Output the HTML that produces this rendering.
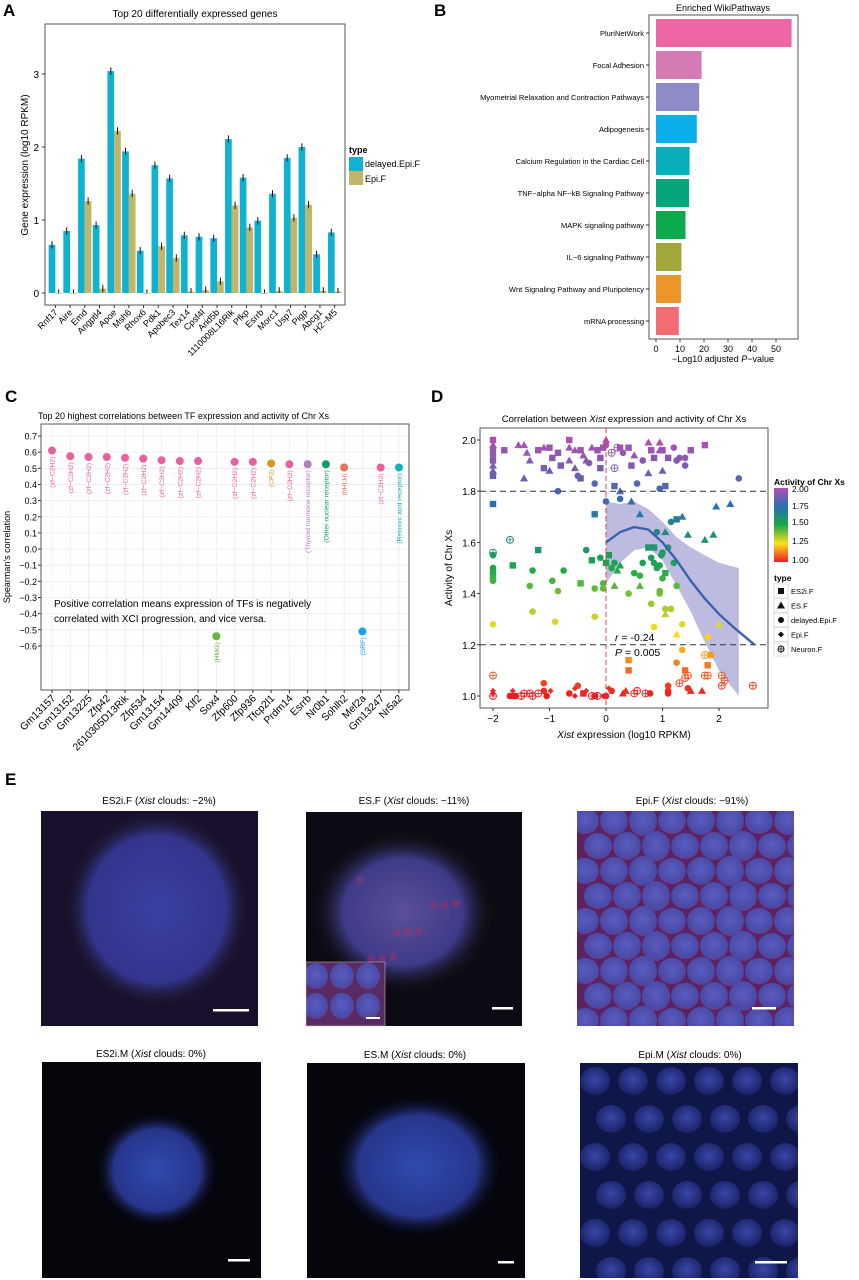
<!DOCTYPE html>
<html><head><meta charset="utf-8"><style>
body{margin:0;background:#fff}
svg{display:block;font-family:"Liberation Sans",Arial,sans-serif}
</style></head><body>
<svg id="fig" width="859" height="1280" viewBox="0 0 859 1280" xmlns="http://www.w3.org/2000/svg">
<defs>
<radialGradient id="blob1" cx="50%" cy="50%" r="50%"><stop offset="0" stop-color="#3b3fa0"/><stop offset="0.75" stop-color="#33358c"/><stop offset="1" stop-color="#1b1a2e" stop-opacity="0"/></radialGradient>
<radialGradient id="blob2" cx="50%" cy="50%" r="50%"><stop offset="0" stop-color="#5a4f9a"/><stop offset="0.65" stop-color="#3e3b88"/><stop offset="1" stop-color="#111" stop-opacity="0"/></radialGradient>
<radialGradient id="blob3" cx="50%" cy="50%" r="50%"><stop offset="0" stop-color="#2f4bb0"/><stop offset="0.7" stop-color="#27358a"/><stop offset="1" stop-color="#05050d" stop-opacity="0"/></radialGradient>
<radialGradient id="cell" cx="50%" cy="45%" r="55%"><stop offset="0" stop-color="#5a5cc0"/><stop offset="0.85" stop-color="#4a4aa6"/><stop offset="1" stop-color="#6a3a88"/></radialGradient>
<radialGradient id="cellb" cx="50%" cy="45%" r="55%"><stop offset="0" stop-color="#3847a8"/><stop offset="1" stop-color="#1a2266"/></radialGradient>
<linearGradient id="cbar" x1="0" y1="1" x2="0" y2="0"><stop offset="0" stop-color="#ee1c25"/><stop offset="0.25" stop-color="#fbe11b"/><stop offset="0.5" stop-color="#19a84a"/><stop offset="0.75" stop-color="#2b6fb5"/><stop offset="1" stop-color="#b14fb0"/></linearGradient>
<clipPath id="clip3"><rect x="577" y="811" width="217" height="215"/></clipPath>
<clipPath id="clip6"><rect x="580" y="1063" width="218" height="215"/></clipPath>
<clipPath id="clipIn"><rect x="306" y="962" width="79" height="64"/></clipPath>
</defs>
<g id="pA"></g>
<g id="pB"></g>
<g id="pC"></g>
<g id="pD"></g>
<g id="pE"></g>
</svg>
<script>
const NS="http://www.w3.org/2000/svg";
function mk(parent,tag,attrs,text){const e=document.createElementNS(NS,tag);for(const k in attrs)e.setAttribute(k,attrs[k]);if(text!==undefined)e.textContent=text;parent.appendChild(e);return e;}

// ---------- Panel A data ----------
const genesA=["Rnf17","Aire","Emd","Angptl4","Apoe","Msh6","Rhox6","Pdk1","Apobec3","Tex14","Cpsf4l","Arid5b","1110008L16Rik","Pfkp","Esrrb","Morc1","Usp7","Pigp","Abcg1","H2−M5"];
const delayedA=[0.66,0.85,1.84,0.93,3.04,1.94,0.58,1.75,1.57,0.79,0.77,0.75,2.11,1.58,0.99,1.36,1.85,2.0,0.53,0.83];
const epiA=[0,0,1.26,0.06,2.22,1.36,0,0.64,0.48,0.02,0.04,0.16,1.2,0.9,0,0.03,1.03,1.21,0.03,0.02];
const ticksA=[0,1,2,3];
// ---------- Panel B data ----------
const pathwaysB=["PluriNetWork","Focal Adhesion","Myometrial Relaxation and Contraction Pathways","Adipogenesis","Calcium Regulation in the Cardiac Cell","TNF−alpha NF−kB Signaling Pathway","MAPK signaling pathway","IL−6 signaling Pathway","Wnt Signaling Pathway and Pluripotency","mRNA processing"];
const valuesB=[56.5,19,18,17,14,13.8,12.3,10.6,10.4,9.5];
const colorsB=["#ee67a4","#d57bb4","#8e8cc6","#0aaeea","#09aebc","#06a67c","#0ca94d","#a1a73a","#ec962a","#f26d73"];
const ticksB=[0,10,20,30,40,50];
// ---------- Panel C data ----------
const tfC=["Gm13157","Gm13152","Gm13225","Zfp42","2610305D13Rik","Zfp534","Gm13154","Gm14409","Klf2","Sox4","Zfp600","Zfp936","Tfcp2l1","Prdm14","Esrrb","Nr0b1","Sohlh2","Mef2a","Gm13247","Nr5a2"];
const corrC=[0.61,0.575,0.57,0.57,0.565,0.56,0.55,0.545,0.545,-0.54,0.54,0.54,0.53,0.525,0.525,0.525,0.505,-0.51,0.505,0.505];
const familyC=["zf−C2H2","zf−C2H2","zf−C2H2","zf−C2H2","zf−C2H2","zf−C2H2","zf−C2H2","zf−C2H2","zf−C2H2","HMG","zf−C2H2","zf−C2H2","CP2","zf−C2H2","Thyroid hormone receptor","Other nuclear receptor","bHLH","SRF","zf−C2H2","Retinoic acid receptor"];
const famColor={"zf−C2H2":"#e8619e","HMG":"#6cb33f","CP2":"#d49a1f","Thyroid hormone receptor":"#b07fc0","Other nuclear receptor":"#0e9e6b","bHLH":"#e9735c","SRF":"#1aa3e2","Retinoic acid receptor":"#12b1c0"};
const ticksC=[0.7,0.6,0.5,0.4,0.3,0.2,0.1,0.0,-0.1,-0.2,-0.3,-0.4,-0.5,-0.6];
// ---------- Panel D data ----------
const xsD=[-2,-2,-2,-2,-2,-2,-2,-2,-1.8,-1.55,-1.45,-1.4,-1.35,-1.45,-1.2,-1.1,-1.0,-0.95,-1.1,-1.0,-0.8,-0.85,-0.65,-0.65,-0.65,-0.55,-0.45,-0.4,-0.5,-0.45,-0.35,-0.25,-0.15,-0.1,-0.05,0,0,-0.1,-0.55,-0.3,0.1,0.2,0.25,0.3,0.4,0.5,0.45,0.65,0.75,0.8,0.85,0.95,0.95,1.0,1.2,1.1,1.25,1.4,1.5,0.75,1.0,1.3,1.4,1.75,2.35,0.15,-0.2,-0.85,0.15,0.25,0.55,0.95,1.05,
-2,0,0.25,0.45,0.6,-0.2,1.15,1.25,1.35,0.9,1.05,1.45,1.95,2.2,1.9,1.75,-1.7,
-2,-2,-2,-2,-2,-2,-1.65,-1.2,-1.3,-1.35,-0.95,-0.85,-0.75,-0.45,-0.35,-0.25,-0.1,-0.2,-0.05,-0.05,0,0.05,0.1,0.15,0.2,0.25,0.15,0.4,0.5,0.6,0.6,0.65,0.75,0.85,0.8,0.85,0.9,0.95,1.0,1.1,1.0,1.05,1.2,1.25,0.95,0.8,0.95,1.05,1.15,1.05,0.98,
-2,-1.3,-0.9,-0.2,1.35,0.85,2.0,
1.25,1.8,1.35,1.25,1.75,1.85,1.8,1.4,0.4,0.4,1.45,1.4,1.75,1.8,2.05,2.1,2.05,2.6,1.3,-2,
-2,-2,-2,-1.7,-1.65,-1.6,-1.45,-1.5,-1.35,-1.3,-1.65,-1.2,-1.1,-1.05,-1.1,-0.98,-0.65,-0.55,-0.5,-0.55,-0.4,-0.35,-0.25,-0.2,-0.15,-0.05,0,0.05,0.1,0.3,0.35,0.5,0.55,0.7,0.78,1.1,1.1,1.1,1.45,1.5,1.7];
const ysD=[2.0,1.98,1.96,1.94,1.92,1.9,1.88,1.86,1.96,1.98,1.98,1.95,1.92,1.85,1.96,1.97,1.97,1.93,1.89,1.88,1.9,1.95,1.97,1.92,2.0,1.96,1.96,1.94,1.86,1.85,1.92,1.97,1.96,1.93,1.97,1.98,2.0,1.89,1.89,1.91,1.95,1.97,1.97,1.95,1.97,1.94,1.9,1.92,1.99,1.96,1.93,1.96,1.99,1.96,1.97,1.93,1.92,1.93,1.96,1.87,1.88,1.93,1.9,1.98,1.85,1.89,1.83,1.8,1.82,1.8,1.83,1.81,1.82,
1.75,1.76,1.77,1.76,1.71,1.71,1.68,1.69,1.7,1.64,1.64,1.63,1.74,1.75,1.63,1.61,1.61,
1.56,1.55,1.5,1.48,1.46,1.45,1.51,1.57,1.49,1.43,1.45,1.41,1.49,1.44,1.57,1.53,1.54,1.42,1.44,1.42,1.52,1.55,1.5,1.52,1.49,1.51,1.43,1.4,1.48,1.47,1.43,1.52,1.58,1.58,1.54,1.52,1.5,1.51,1.56,1.58,1.46,1.48,1.52,1.43,1.4,1.36,1.41,1.34,1.34,1.32,1.55,
1.28,1.33,1.29,1.31,1.28,1.27,1.28,
1.24,1.23,1.18,1.13,1.16,1.16,1.12,1.1,1.14,1.1,1.08,1.07,1.08,1.08,1.08,1.06,1.04,1.04,1.05,1.08,
1.02,1.01,1.0,1.0,1.0,1.0,1.01,1.0,1.01,1.0,1.02,1.01,1.02,1.0,1.05,1.02,1.01,1.03,1.04,1.0,1.01,1.02,1.0,1.0,1.0,1.0,1.0,1.03,1.02,1.01,1.02,1.01,1.02,1.01,1.01,1.04,1.02,1.01,1.03,1.02,1.02];
const typeStr="stscsttsstttttstssstssttststcsttsssctstcnnscstsctssttscsccsttccscnccstccsscc"+"ttscstcttttttnnccs"+"scsscccccscsccccsscctttccctcsscccccccsccccccctcccccccttcccn"+"sssssnn"+"nnnnnnnnddncccnnnndn"+"cccdcdcdsdncndcdcttnnnccccctttccndcccnccdcnnn";
const ticksDx=[-2,-1,0,1,2];
const ticksDy=[1.0,1.2,1.4,1.6,1.8,2.0];
const fitX=[0,0.25,0.5,0.75,1,1.25,1.5,1.75,2,2.25,2.63];
const fitY=[1.6,1.64,1.66,1.65,1.6,1.53,1.45,1.38,1.32,1.27,1.2];
const bandX=[0,0.25,0.5,0.75,1,1.25,1.5,1.75,2,2.35];
const bandHi=[1.76,1.75,1.76,1.73,1.68,1.62,1.58,1.55,1.52,1.5];
const bandLo=[1.44,1.52,1.57,1.58,1.53,1.43,1.33,1.21,1.1,1.0];

// ================= Panel A =================
(function(){
const g=document.getElementById('pA');
const L=45,R=345,T=24,B=305,y0=293,ppu=73;
const y=v=>y0-v*ppu;
const step=(342-48)/20, x0=48;
mk(g,'text',{x:3,y:16,'font-size':17,'font-weight':'bold'},'A');
mk(g,'text',{x:195,y:17,'font-size':10,'text-anchor':'middle'},'Top 20 differentially expressed genes');
mk(g,'rect',{x:L,y:T,width:R-L,height:B-T,fill:'none',stroke:'#555','stroke-width':1});
ticksA.forEach(t=>{mk(g,'line',{x1:L-3,x2:L,y1:y(t),y2:y(t),stroke:'#333'});
mk(g,'text',{x:L-6,y:y(t)+4,'font-size':10,'text-anchor':'end'},t);});
mk(g,'text',{transform:`translate(28,165) rotate(-90)`,'font-size':10,'text-anchor':'middle'},'Gene expression (log10 RPKM)');
genesA.forEach((gn,i)=>{
const cx=x0+step*(i+0.5);const bw=6.7;
const b1=mk(g,'rect',{x:cx-bw,y:y(delayedA[i]),width:bw,height:delayedA[i]*ppu,fill:'#0fb3cf'});


const b2=mk(g,'rect',{x:cx,y:y(epiA[i]),width:bw,height:Math.max(epiA[i]*ppu,0.8),fill:'#c2b56a'});


[[cx-bw/2,delayedA[i]],[cx+bw/2,epiA[i]]].forEach(([ex,v])=>{const e=0.05;mk(g,'line',{x1:ex,x2:ex,y1:y(v+e),y2:y(Math.max(v-e,0)),stroke:'#111','stroke-width':1});});
mk(g,'line',{x1:cx,x2:cx,y1:B,y2:B+3,stroke:'#333'});
mk(g,'text',{transform:`translate(${cx+3},${B+8}) rotate(-45)`,'font-size':9,'text-anchor':'end'},gn);
});
mk(g,'text',{x:349,y:153,'font-size':9,'font-weight':'bold'},'type');
mk(g,'rect',{x:349,y:157,width:14,height:14,fill:'#0fb3cf'});
mk(g,'rect',{x:349,y:171,width:14,height:14,fill:'#c2b56a'});
mk(g,'text',{x:365,y:167,'font-size':9},'delayed.Epi.F');
mk(g,'text',{x:365,y:182,'font-size':9},'Epi.F');
})();

// ================= Panel B =================
(function(){
const g=document.getElementById('pB');
const L=649,R=798,T=15,B=339,x0=656,ppu=2.4;
const x=v=>x0+v*ppu;
mk(g,'text',{x:434,y:16,'font-size':17,'font-weight':'bold'},'B');
mk(g,'text',{x:723,y:11,'font-size':9,'text-anchor':'middle'},'Enriched WikiPathways');
mk(g,'rect',{x:L,y:T,width:R-L,height:B-T,fill:'none',stroke:'#555'});
pathwaysB.forEach((p,i)=>{
const cy=33+32*i;
const b=mk(g,'rect',{x:x0,y:cy-14,width:valuesB[i]*ppu,height:28,fill:colorsB[i]});


mk(g,'line',{x1:L-3,x2:L,y1:cy,y2:cy,stroke:'#333'});
mk(g,'text',{x:L-5,y:cy+3,'font-size':7.5,'text-anchor':'end'},p);
});
ticksB.forEach(t=>{mk(g,'line',{x1:x(t),x2:x(t),y1:B,y2:B+3,stroke:'#333'});
mk(g,'text',{x:x(t),y:B+13,'font-size':9,'text-anchor':'middle'},t);});
const xl=mk(g,'text',{x:723,y:362,'font-size':9,'text-anchor':'middle'});
xl.innerHTML='−Log10 adjusted <tspan font-style="italic">P</tspan>−value';
})();

// ================= Panel C =================
(function(){
const g=document.getElementById('pC');
const L=41,R=409,T=424,B=690;
const y=v=>436+(0.7-v)*161.5;
const x=i=>52+i*18.26;
mk(g,'text',{x:5,y:402,'font-size':17,'font-weight':'bold'},'C');
mk(g,'text',{x:38,y:419,'font-size':9},'Top 20 highest correlations between TF expression and activity of Chr Xs');
ticksC.forEach(t=>{mk(g,'line',{x1:L,x2:R,y1:y(t),y2:y(t),stroke:'#ececec','stroke-width':0.8});
mk(g,'line',{x1:L,x2:R,y1:y(t)+8,y2:y(t)+8,stroke:'#f5f5f5','stroke-width':0.5});
mk(g,'line',{x1:L-3,x2:L,y1:y(t),y2:y(t),stroke:'#333'});
mk(g,'text',{x:L-4,y:y(t)+3.5,'font-size':9,'text-anchor':'end'},t.toFixed(1).replace('-','−'));});
tfC.forEach((n,i)=>{mk(g,'line',{x1:x(i),x2:x(i),y1:T,y2:B,stroke:'#ececec','stroke-width':0.8});});
mk(g,'rect',{x:L,y:T,width:R-L,height:B-T,fill:'none',stroke:'#555'});
mk(g,'text',{transform:'translate(10,557) rotate(-90)','font-size':9,'text-anchor':'middle'},"Spearman's correlation");
tfC.forEach((n,i)=>{
const c=famColor[familyC[i]];
const d=mk(g,'circle',{cx:x(i),cy:y(corrC[i]),r:4,fill:c});


mk(g,'text',{transform:`translate(${x(i)+2.5},${y(corrC[i])+6}) rotate(-90)`,'font-size':6.8,'text-anchor':'end',fill:c},'('+familyC[i]+')');
mk(g,'line',{x1:x(i),x2:x(i),y1:B,y2:B+3,stroke:'#333'});
mk(g,'text',{transform:`translate(${x(i)+4},${B+9}) rotate(-45)`,'font-size':10.3,'text-anchor':'end'},n);
});
mk(g,'text',{x:54,y:607,'font-size':10},'Positive correlation means expression of TFs is negatively');
mk(g,'text',{x:54,y:622,'font-size':10},'correlated with XCI progression, and vice versa.');
})();

// ================= Panel D =================
(function(){
const g=document.getElementById('pD');
const L=480,R=768,T=428,B=708;
const x=v=>606+v*56.5;
const y=v=>696-(v-1)*256;
mk(g,'text',{x:431,y:402,'font-size':17,'font-weight':'bold'},'D');
const tt=mk(g,'text',{x:624,y:422,'font-size':9.5,'text-anchor':'middle'});
tt.innerHTML='Correlation between <tspan font-style="italic">Xist</tspan> expression and activity of Chr Xs';
mk(g,'rect',{x:L,y:T,width:R-L,height:B-T,fill:'#fff',stroke:'#555'});
ticksDy.forEach(t=>{mk(g,'line',{x1:L-3,x2:L,y1:y(t),y2:y(t),stroke:'#333'});
mk(g,'text',{x:L-4,y:y(t)+4,'font-size':10,'text-anchor':'end'},t.toFixed(1));});
ticksDx.forEach(t=>{mk(g,'line',{x1:x(t),x2:x(t),y1:B,y2:B+3,stroke:'#333'});
mk(g,'text',{x:x(t),y:B+14,'font-size':10,'text-anchor':'middle'},String(t).replace('-','−'));});
const xl=mk(g,'text',{x:624,y:738,'font-size':10,'text-anchor':'middle'});
xl.innerHTML='<tspan font-style="italic">Xist</tspan> expression (log10 RPKM)';
mk(g,'text',{transform:'translate(452,568) rotate(-90)','font-size':10,'text-anchor':'middle'},'Activity of Chr Xs');
let pts=bandX.map((v,i)=>`${x(v)},${y(bandHi[i])}`).concat(bandX.map((v,i)=>`${x(v)},${y(bandLo[i])}`).reverse());
mk(g,'polygon',{points:pts.join(' '),fill:'#a7a5d6','fill-opacity':0.75});
function col(v){const stops=[[1,[238,28,37]],[1.25,[251,225,27]],[1.5,[25,168,74]],[1.75,[43,111,181]],[2,[177,79,176]]];
v=Math.max(1,Math.min(2,v));for(let k=0;k<4;k++){if(v<=stops[k+1][0]){const f=(v-stops[k][0])/0.25;const a=stops[k][1],b=stops[k+1][1];return `rgb(${a.map((c,j)=>Math.round(c+(b[j]-c)*f)).join(',')})`;}}return 'rgb(177,79,176)';}
xsD.forEach((xv,i)=>{
const px=x(xv),py=y(ysD[i]),c=col(ysD[i]),tp=typeStr[i]||'c';let e;
if(tp==='s')e=mk(g,'rect',{x:px-3.2,y:py-3.2,width:6.4,height:6.4,fill:c});
else if(tp==='t')e=mk(g,'polygon',{points:`${px},${py-4} ${px-4},${py+3} ${px+4},${py+3}`,fill:c});
else if(tp==='d')e=mk(g,'polygon',{points:`${px},${py-3} ${px+3},${py} ${px},${py+3} ${px-3},${py}`,fill:c});
else if(tp==='n'){e=mk(g,'g',{});mk(e,'circle',{cx:px,cy:py,r:3.5,fill:'none',stroke:c,'stroke-width':0.9});mk(e,'path',{d:`M${px-3.5},${py}H${px+3.5}M${px},${py-3.5}V${py+3.5}`,stroke:c,'stroke-width':0.8});}
else e=mk(g,'circle',{cx:px,cy:py,r:3.3,fill:c});


});
mk(g,'line',{x1:L,x2:R,y1:y(1.8),y2:y(1.8),stroke:'#333','stroke-dasharray':'6,4'});
mk(g,'line',{x1:L,x2:R,y1:y(1.2),y2:y(1.2),stroke:'#333','stroke-dasharray':'6,4'});
mk(g,'line',{x1:x(0),x2:x(0),y1:T,y2:B,stroke:'#e8393a','stroke-dasharray':'5,3'});
mk(g,'polyline',{points:fitX.map((v,i)=>`${x(v)},${y(fitY[i])}`).join(' '),fill:'none',stroke:'#3b61ae','stroke-width':2.4});
const r1=mk(g,'text',{x:615,y:641,'font-size':10.5});r1.innerHTML='<tspan font-style="italic">r</tspan> = -0.24';
const r2=mk(g,'text',{x:615,y:656,'font-size':10.5});r2.innerHTML='<tspan font-style="italic">P</tspan> = 0.005';
mk(g,'text',{x:774,y:485,'font-size':8.5,'font-weight':'bold'},'Activity of Chr Xs');
mk(g,'rect',{x:774,y:488,width:14,height:74,fill:'url(#cbar)'});
[['2.00',492],['1.75',509],['1.50',525],['1.25',544],['1.00',563]].forEach(([t,yy])=>{mk(g,'text',{x:792,y:yy,'font-size':8.5},t);});
mk(g,'text',{x:774,y:581,'font-size':8.5,'font-weight':'bold'},'type');
const lt=[['s','ES2i.F'],['t','ES.F'],['c','delayed.Epi.F'],['d','Epi.F'],['n','Neuron.F']];
lt.forEach(([tp,lab],k)=>{const cy=591+k*14.5,cx=781;
mk(g,'rect',{x:774,y:cy-7,width:14,height:14,fill:'#fff',stroke:'#ddd'});
if(tp==='s')mk(g,'rect',{x:cx-3,y:cy-3,width:6,height:6,fill:'#111'});
else if(tp==='t')mk(g,'polygon',{points:`${cx},${cy-4} ${cx-4},${cy+3} ${cx+4},${cy+3}`,fill:'#111'});
else if(tp==='c')mk(g,'circle',{cx:cx,cy:cy,r:3,fill:'#111'});
else if(tp==='d')mk(g,'polygon',{points:`${cx},${cy-3} ${cx+3},${cy} ${cx},${cy+3} ${cx-3},${cy}`,fill:'#111'});
else{mk(g,'circle',{cx:cx,cy:cy,r:3,fill:'none',stroke:'#111'});mk(g,'path',{d:`M${cx-3},${cy}H${cx+3}M${cx},${cy-3}V${cy+3}`,stroke:'#111','stroke-width':0.8});}
mk(g,'text',{x:791,y:cy+3,'font-size':7.5},lab);});
})();

// ================= Panel E =================
(function(){
const g=document.getElementById('pE');
mk(g,'text',{x:5,y:785,'font-size':17,'font-weight':'bold'},'E');
const titles=[["ES2i.F","~2%",159,804],["ES.F","~11%",414,804],["Epi.F","~91%",692,804],["ES2i.M","0%",151,1057],["ES.M","0%",415,1058],["Epi.M","0%",690,1058]];
titles.forEach(([a,b,cx,yy])=>{const t=mk(g,'text',{x:cx,y:yy,'font-size':10,'text-anchor':'middle'});
t.innerHTML=`${a} (<tspan font-style="italic">Xist</tspan> clouds: ${b})`;});
const imgs=[[41,811,217,215],[306,812,216,214],[577,811,217,215],[42,1062,219,216],[307,1063,218,215],[580,1063,218,215]];
const bars=[[213,1009,36],[492,1007,21],[752,1007,24],[228,1259,22],[498,1261,16],[755,1261,32]];
imgs.forEach(([x,y,w,h],k)=>{const im=mk(g,'g',{});


mk(im,'rect',{x:x,y:y,width:w,height:h,fill:k===0?'#1c0f1c':(k<3?'#0c0a12':'#05050c')});
if(k===0){mk(im,'rect',{x:x,y:y,width:w,height:h,fill:'#18123a',opacity:0.5});
mk(im,'ellipse',{cx:157,cy:909,rx:92,ry:98,fill:'url(#blob1)'});}
if(k===1){mk(im,'ellipse',{cx:403,cy:912,rx:92,ry:82,fill:'url(#blob2)'});
for(let j=0;j<10;j++)mk(im,'circle',{cx:360+((j*37)%100),cy:880+((j*53)%80),r:4,fill:'#a0306a',opacity:0.5});
const ins=mk(im,'g',{'clip-path':'url(#clipIn)'});
mk(ins,'rect',{x:306,y:962,width:79,height:64,fill:'#5a2a62'});
for(let j=0;j<6;j++)mk(ins,'ellipse',{cx:316+(j%3)*26,cy:976+Math.floor(j/3)*30,rx:12,ry:13,fill:'url(#cell)'});
mk(im,'rect',{x:306,y:962,width:79,height:64,fill:'none',stroke:'#ccc','stroke-width':0.5});
mk(im,'rect',{x:366,y:1017,width:14,height:2,fill:'#fff'});}
if(k===2){const cg=mk(im,'g',{'clip-path':'url(#clip3)'});
mk(cg,'rect',{x:x,y:y,width:w,height:h,fill:'#5e2262'});
for(let r=0;r<9;r++)for(let c=0;c<8;c++)mk(cg,'ellipse',{cx:x+8+c*29+(r%2)*13,cy:y+10+r*25,rx:14,ry:13+(c%3),fill:'url(#cell)'});}
if(k===3){mk(im,'ellipse',{cx:157,cy:1170,rx:62,ry:58,fill:'url(#blob3)'});}
if(k===4){mk(im,'ellipse',{cx:418,cy:1166,rx:85,ry:72,fill:'url(#blob3)'});}
if(k===5){const cg=mk(im,'g',{'clip-path':'url(#clip6)'});
mk(cg,'rect',{x:x,y:y,width:w,height:h,fill:'#0e1748'});
for(let r=0;r<6;r++)for(let c=0;c<6;c++)mk(cg,'ellipse',{cx:x+15+c*38+(r%2)*16,cy:y+18+r*38,rx:15,ry:14,fill:'url(#cellb)'});}
const [bx,by,bw]=bars[k];
const sb=mk(im,'rect',{x:bx,y:by,width:bw,height:2.5,fill:'#fff'});

});
})();
</script>
</body></html>
